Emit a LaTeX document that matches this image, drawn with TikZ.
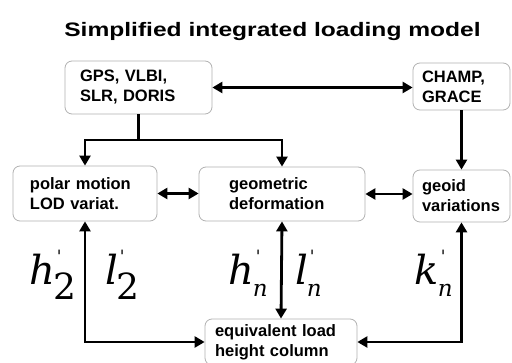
\documentclass[tikz,border=0pt]{standalone}
\usepackage{fontspec}
\setsansfont{Liberation Sans}
\newfontfamily\coeffont{DejaVu Serif}
\usetikzlibrary{arrows.meta}
\newcommand\coef[4]{#1\kern-1pt\rlap{\kern3pt\raisebox{22pt}{\fontsize{17}{17}\selectfont\upshape\textquotesingle}}\raisebox{-#4pt}{\fontsize{#3}{#3}\selectfont #2}}
\tikzset{
  box/.style={draw=gray!60, rounded corners=7pt, line width=0.8pt, inner ysep=0pt, align=left, font=\sffamily\bfseries\fontsize{16.5}{20}\selectfont},
  link/.style={line width=2.8pt, -{Triangle[length=10pt,width=11pt]}},
  both/.style={line width=2.8pt, {Triangle[length=10pt,width=11pt]}-{Triangle[length=10pt,width=11pt]}},
  coefl/.style={inner sep=0pt, anchor=base east, font=\coeffont\itshape\fontsize{40}{40}\selectfont},
  coefr/.style={inner sep=0pt, anchor=base west, font=\coeffont\itshape\fontsize{40}{40}\selectfont},
}
\begin{document}
\begin{tikzpicture}[x=1pt,y=-1pt]
\clip (0,0) rectangle (512,363);
\fill[white] (0,0) rectangle (512,363);
\node[font=\sffamily\bfseries\fontsize{19.5}{24}\selectfont, anchor=base] (title) at (272.5,37) {\scalebox{1.26}[1]{Simplified integrated loading model}};
\node[box, inner xsep=15pt, text width=117pt, minimum height=53pt] (gps) at (138.5,87.5) {GPS, VLBI,\\SLR, DORIS};
\node[box, inner xsep=9pt, text width=79pt, minimum height=47pt] (champ) at (461.5,86.5) {CHAMP,\\GRACE};
\node[box, inner xsep=17pt, text width=110pt, minimum height=55pt] (polar) at (85,193.5) {polar motion\\LOD variat.};
\node[box, inner xsep=30pt, text width=106pt, minimum height=54pt] (geom) at (282,194) {geometric\\deformation};
\node[box, inner xsep=9pt, text width=79pt, minimum height=52pt] (geoid) at (461.5,196) {geoid\\variations};
\node[box, inner xsep=10pt, text width=132pt, minimum height=46pt] (equiv) at (281,342) {equivalent load\\height column};
\coordinate (split) at (138.5,140);
\draw[both] (gps.east) -- (gps.east -| champ.west);
\draw[line width=2.8pt] (gps.south) -- (split);
\draw[link] (split) -| (polar.north);
\draw[link] (split) -| (geom.north);
\draw[link] (champ) -- (geoid);
\draw[both] (polar.east) -- (polar.east -| geom.west);
\draw[both] (geom.east) -- (geom.east -| geoid.west);
\draw[both] (geom.south) -- (equiv.north);
\draw[both] (polar.south) |- (equiv.west);
\draw[both] (geoid.south) |- (equiv.east);
\node[coefl] (h2) at (77,285) {\coef{h}{\upshape 2}{36}{15}};
\node[coefr] (l2) at (105,285) {\coef{l}{\upshape 2}{36}{15}};
\node[coefl] (hn) at (268,285) {\coef{h}{n}{23}{12}};
\node[coefr] (ln) at (295,285) {\coef{l}{n}{23}{12}};
\node[coefl] (kn) at (453,285) {\coef{k}{n}{23}{12}};
\end{tikzpicture}
\end{document}
